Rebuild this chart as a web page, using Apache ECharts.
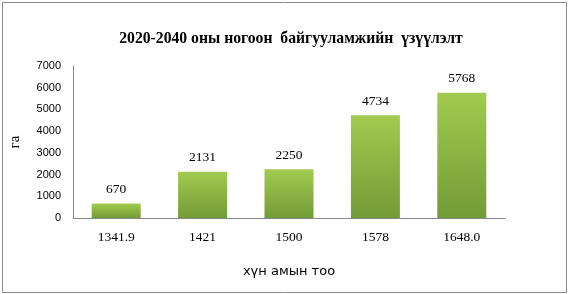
<!DOCTYPE html>
<html><head><meta charset="utf-8">
<script src="https://cdn.jsdelivr.net/npm/echarts@6/dist/echarts.min.js"></script>
<style>html,body{margin:0;padding:0;background:#fff}#c{width:570px;height:294px}</style>
</head><body><div id="c"></div>
<script>
const categories = ['1341.9', '1421', '1500', '1578', '1648.0'];
const values = [670, 2131, 2250, 4734, 5768];
const yTicks = [0, 1000, 2000, 3000, 4000, 5000, 6000, 7000];

const chart = echarts.init(document.getElementById('c'));
chart.setOption({
  animation: false,
  title: {
    text: '2020-2040 оны ногоон  байгууламжийн  үзүүлэлт',
    left: 286, top: 26, textAlign: 'center',
    textStyle: {fontFamily: 'Liberation Serif', fontWeight: 'bold', fontSize: 15.7, color: '#000'}
  },
  graphic: [{type: 'rect', shape: {x: 2.5, y: 2.5, width: 564, height: 290}, style: {fill: 'none', stroke: '#8a8a8a', lineWidth: 1}}],
  grid: {left: 73, right: 65, top: 66, bottom: 76},
  xAxis: {
    type: 'category', data: categories,
    name: 'хүн амын тоо', nameLocation: 'middle', nameGap: 47,
    nameTextStyle: {fontFamily: 'DejaVu Sans', fontSize: 13, color: '#000'},
    axisLine: {lineStyle: {color: '#888'}}, axisTick: {show: false},
    axisLabel: {fontFamily: 'Liberation Serif', fontSize: 13.5, color: '#000', margin: 12}
  },
  yAxis: {
    type: 'value', min: yTicks[0], max: yTicks[yTicks.length - 1], interval: 1000,
    name: 'га', nameLocation: 'middle', nameGap: 50, nameRotate: 90,
    nameTextStyle: {fontFamily: 'Liberation Serif', fontSize: 15, color: '#000'},
    axisLine: {show: true, lineStyle: {color: '#888'}}, axisTick: {show: false}, splitLine: {show: false},
    axisLabel: {fontFamily: 'Liberation Sans', fontSize: 11, color: '#000', margin: 12, formatter: v => String(v)}
  },
  series: [{
    type: 'bar', data: values, barWidth: 49,
    itemStyle: {color: new echarts.graphic.LinearGradient(0, 0, 0, 1, [
      {offset: 0, color: '#a2cb4f'}, {offset: 1, color: '#739b36'}])},
    label: {show: true, position: 'top', distance: 7, fontFamily: 'Liberation Serif', fontSize: 13.5, color: '#000'}
  }]
});
</script></body></html>
